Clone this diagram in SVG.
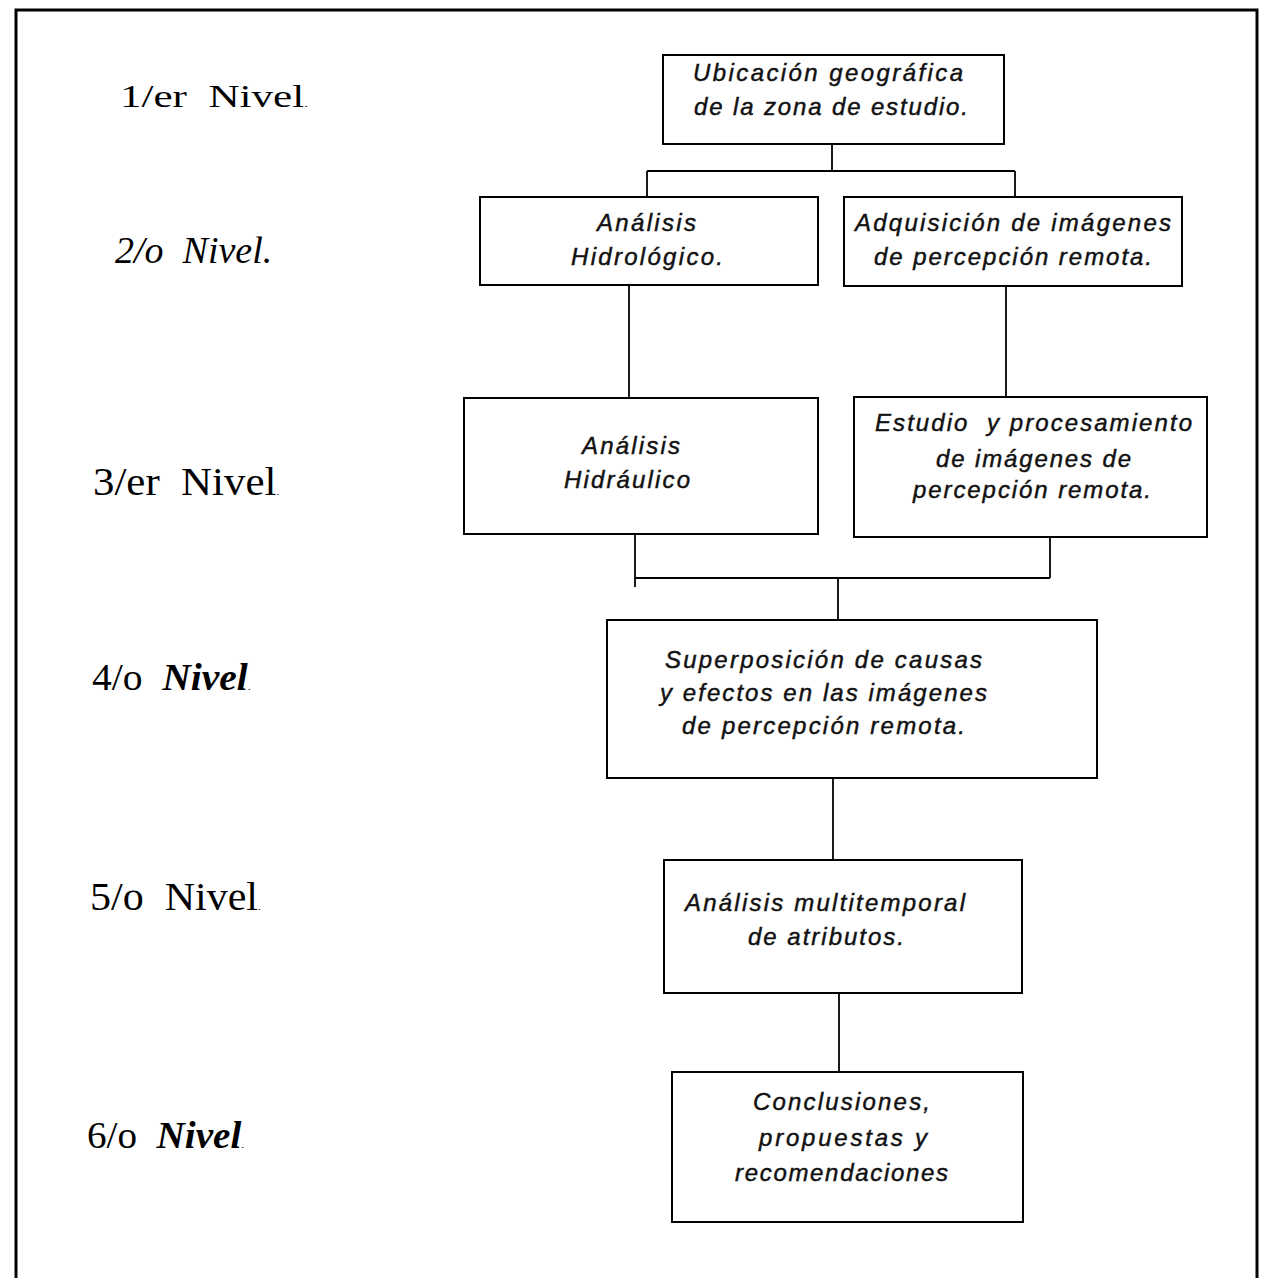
<svg xmlns="http://www.w3.org/2000/svg" width="1273" height="1278" viewBox="0 0 1273 1278">
  <style>
    .frame { fill: none; stroke: #000; stroke-width: 3; }
    .box rect { fill: #fff; stroke: #000; stroke-width: 2; }
    .box text { font-family: "Liberation Sans", Arial, sans-serif; font-style: italic; font-size: 24px; fill: #111; stroke: #111; stroke-width: 0.45; white-space: pre; }
    .conn line { stroke: #000; stroke-width: 1.8; }
    .lvl { font-family: "Liberation Serif", "Times New Roman", serif; fill: #000; white-space: pre; }
    .it { font-style: italic; }
    .bi { font-style: italic; font-weight: bold; }
    .dot { font-size: 11px; }
  </style>

  <!-- page frame (open at the bottom) -->
  <path class="frame" d="M16,1278 V10 H1257 V1278"/>

  <!-- level labels -->
  <g id="levels">
    <text class="lvl" font-size="31" transform="translate(120,107) scale(1.39,1)">1/er  Nivel<tspan class="dot">.</tspan></text>
    <text class="lvl it" font-size="38" transform="translate(115,263)">2/o  Nivel.</text>
    <text class="lvl" font-size="39" transform="translate(93,495) scale(1.1,1)">3/er  Nivel<tspan class="dot">.</tspan></text>
    <text class="lvl" font-size="38" transform="translate(92,690) scale(1.04,1)">4/o  <tspan class="bi">Nivel</tspan><tspan class="dot">.</tspan></text>
    <text class="lvl" font-size="40" transform="translate(90,910) scale(1.05,1)">5/o  Nivel<tspan class="dot">.</tspan></text>
    <text class="lvl" font-size="38" transform="translate(87,1148) scale(1.03,1)">6/o  <tspan class="bi">Nivel</tspan><tspan class="dot">.</tspan></text>
  </g>

  <!-- connectors -->
  <g id="connectors" class="conn">
    <line x1="832" y1="144" x2="832" y2="171"/>
    <line x1="647" y1="171" x2="1015" y2="171"/>
    <line x1="647" y1="171" x2="647" y2="197"/>
    <line x1="1015" y1="171" x2="1015" y2="197"/>
    <line x1="629" y1="285" x2="629" y2="398"/>
    <line x1="1006" y1="286" x2="1006" y2="397"/>
    <line x1="635" y1="534" x2="635" y2="587"/>
    <line x1="1050" y1="537" x2="1050" y2="578"/>
    <line x1="635" y1="578" x2="1050" y2="578"/>
    <line x1="838" y1="578" x2="838" y2="620"/>
    <line x1="833" y1="778" x2="833" y2="860"/>
    <line x1="839" y1="993" x2="839" y2="1072"/>
  </g>

  <!-- nodes -->
  <g id="ubicacion" class="box">
    <rect x="663" y="55" width="341" height="89"/>
    <text x="693" y="81" textLength="270">Ubicación geográfica</text>
    <text x="694" y="115" textLength="274">de la zona de estudio.</text>
  </g>

  <g id="hidrologico" class="box">
    <rect x="480" y="197" width="338" height="88"/>
    <text x="597" y="231" textLength="99">Análisis</text>
    <text x="571" y="265" textLength="152">Hidrológico.</text>
  </g>

  <g id="adquisicion" class="box">
    <rect x="844" y="197" width="338" height="89"/>
    <text x="855" y="231" textLength="316">Adquisición de imágenes</text>
    <text x="874" y="265" textLength="278">de percepción remota.</text>
  </g>

  <g id="hidraulico" class="box">
    <rect x="464" y="398" width="354" height="136"/>
    <text x="582" y="454" textLength="98">Análisis</text>
    <text x="564" y="488" textLength="126">Hidráulico</text>
  </g>

  <g id="procesamiento" class="box">
    <rect x="854" y="397" width="353" height="140"/>
    <text x="875" y="431" textLength="317">Estudio  y procesamiento</text>
    <text x="936" y="467" textLength="195">de imágenes de</text>
    <text x="913" y="498" textLength="238">percepción remota.</text>
  </g>

  <g id="superposicion" class="box">
    <rect x="607" y="620" width="490" height="158"/>
    <text x="665" y="668" textLength="317">Superposición de causas</text>
    <text x="660" y="701" textLength="327">y efectos en las imágenes</text>
    <text x="682" y="734" textLength="283">de percepción remota.</text>
  </g>

  <g id="multitemporal" class="box">
    <rect x="664" y="860" width="358" height="133"/>
    <text x="685" y="911" textLength="280">Análisis multitemporal</text>
    <text x="748" y="945" textLength="156">de atributos.</text>
  </g>

  <g id="conclusiones" class="box">
    <rect x="672" y="1072" width="351" height="150"/>
    <text x="753" y="1110" textLength="177">Conclusiones,</text>
    <text x="759" y="1146" textLength="168">propuestas y</text>
    <text x="735" y="1181" textLength="213">recomendaciones</text>
  </g>
</svg>
